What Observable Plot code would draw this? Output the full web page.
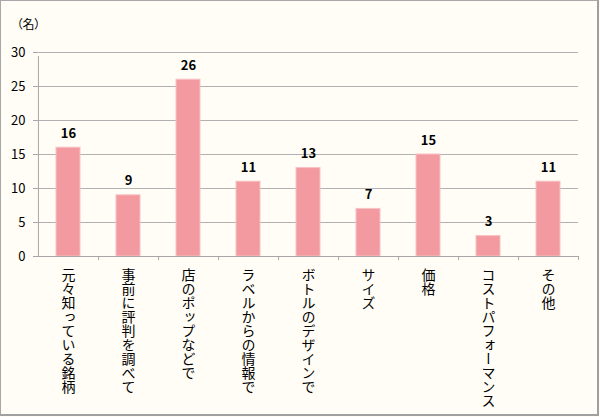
<!DOCTYPE html>
<html>
<head>
<meta charset="utf-8">
<script src="https://cdn.jsdelivr.net/npm/d3@7"></script>
<script src="https://cdn.jsdelivr.net/npm/@observablehq/plot@0.6"></script>
<style>
  html, body { margin: 0; padding: 0; background: #fffdf6; }
  #wrap { position: relative; width: 600px; height: 417px; overflow: hidden; }
  #border { position: absolute; left: 0; top: 0; width: 599px; height: 416px; box-sizing: border-box;
            border: 1px solid #a8a8a8; border-right: 2px solid #a0a0a0; border-bottom: 2px solid #a0a0a0; }
  #chart { position: absolute; left: 0; top: 0; }
</style>
</head>
<body>
<div id="wrap"><div id="border"></div><div id="chart"></div></div>
<script>
const categories = ["元々知っている銘柄", "事前に評判を調べて", "店のポップなどで", "ラベルからの情報で", "ボトルのデザインで", "サイズ", "価格", "コストパフォーマンス", "その他"];
const counts = [16, 9, 26, 11, 13, 7, 15, 3, 11];
const yTicks = [0, 5, 10, 15, 20, 25, 30];
const unitLabel = "（名）";

const W = 600, H = 417, ML = 37, MR = 22, MT = 52, MB = 161;
const step = (W - ML - MR) / categories.length;
const data = categories.map((c, i) => ({category: c, count: counts[i]}));
const font = "'Noto Sans CJK JP', 'Noto Sans', sans-serif";

const chart = Plot.plot({
  width: W, height: H,
  marginLeft: ML, marginRight: MR, marginTop: MT, marginBottom: MB,
  style: {background: "transparent", fontFamily: font, fontSize: "13px", color: "#000", overflow: "visible"},
  x: {domain: categories, paddingInner: 0.6, paddingOuter: 0.3, axis: null},
  y: {domain: [0, 30], axis: null},
  marks: [
    Plot.ruleY(yTicks.filter(t => t > 0), {stroke: "#b2b2b2", strokeWidth: 1}),
    Plot.barY(data, {x: "category", y: "count", fill: "#f29a9f", stroke: "#f7c2c4", strokeWidth: 1}),
    Plot.ruleY([0], {stroke: "#a6a6a6", strokeWidth: 1}),
    Plot.ruleX([categories[0]], {dx: -step / 2, y1: 0, y2: 30, insetBottom: -4, stroke: "#a6a6a6", strokeWidth: 1}),
    Plot.ruleX(categories, {x: d => d, dx: step / 2, y1: 0, y2: 0, insetBottom: -4, stroke: "#a6a6a6", strokeWidth: 1}),
    Plot.axisY({ticks: yTicks, tickSize: 4, tickPadding: 8, fontSize: 13, stroke: "#a6a6a6", fill: "#000", label: null, strokeOpacity: 1}),
    Plot.text(data, {x: "category", y: "count", text: d => String(d.count), dy: -14, fontSize: 13, fontWeight: "bold", fill: "#000"}),
    Plot.text(categories, {x: d => d, frameAnchor: "bottom", dy: 11, text: d => d, fontSize: 14, fill: "#000"}),
    Plot.text([unitLabel], {frameAnchor: "top-left", textAnchor: "middle", dx: -9, dy: -32, text: d => d, fontSize: 12, fill: "#000"})
  ]
});

const sel = d3.select(chart);
const catSet = new Set(categories);

// vertical category labels
sel.selectAll("text").each(function() {
  const t = d3.select(this);
  const s = this.textContent;
  if (catSet.has(s)) {
    t.attr("dy", null)
     .attr("text-anchor", "start")
     .attr("writing-mode", "vertical-rl")
     .style("writing-mode", "vertical-rl");
    d3.select(this.parentNode).attr("dy", null);
  } else if (s === unitLabel) {
    t.style("font-feature-settings", "'palt'");
  }
});

document.getElementById("chart").appendChild(chart);
</script>
</body>
</html>
